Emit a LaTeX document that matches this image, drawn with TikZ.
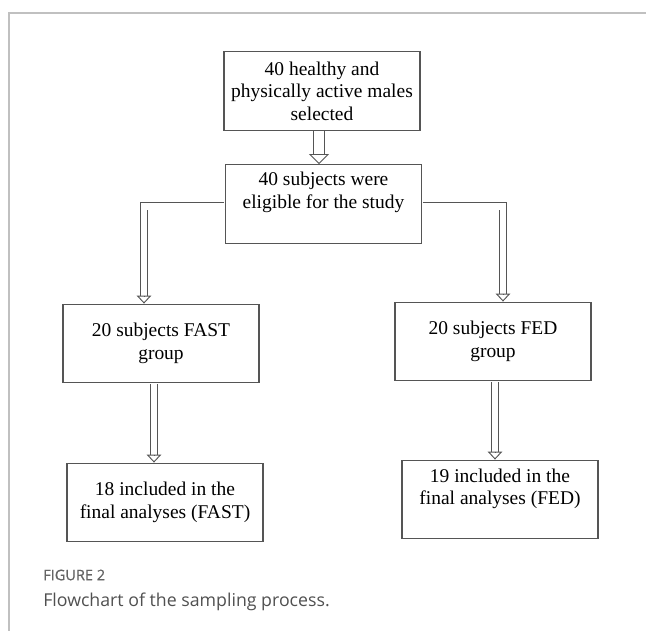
\documentclass[tikz,border=0pt]{standalone}
\usepackage{fontspec}
\setmainfont{Liberation Serif}
\newfontfamily\captionfont{Open Sans}
\newfontfamily\figlabelfont[FakeBold=0.8]{Open Sans}
\usetikzlibrary{arrows.meta,calc}

\begin{document}
\begin{tikzpicture}[x=0.75pt,y=0.75pt,yscale=-1,xscale=1,
		stepbox/.style={draw={rgb, 255:red, 85; green, 85; blue, 85 },line width=0.9pt,minimum width=147pt,minimum height=59pt,inner sep=0pt,align=center,font=\fontsize{14.6}{16.8}\selectfont},
		shaft/.style={draw={rgb, 255:red, 85; green, 85; blue, 85 },line width=0.7pt,double=white,double distance=4.6pt},
		head/.style={draw={rgb, 255:red, 85; green, 85; blue, 85 },line width=0.7pt,-{Triangle[open,length=6pt,width=11pt]}}]
		\useasboundingbox (0,0) rectangle (646,631);
		
		%frame of the figure
		\draw [color={rgb, 255:red, 192; green, 192; blue, 192 }, line width=1.2pt] (9,631) -- (9,13) -- (646,13) ;
		
		%boxes
		\node [stepbox] (selected) at (322,91) {40 healthy and\\physically active males\\selected};
		\node [stepbox] (eligible) at (323.5,204) {40 subjects were\\eligible for the study\\[4pt]};
		\node [stepbox] (fast) at (161,343.5) {20 subjects FAST\\group};
		\node [stepbox] (fed) at (493,341.5) {20 subjects FED\\group};
		\node [stepbox] (fastfinal) at (165,502.5) {18 included in the\\final analyses (FAST)};
		\node [stepbox] (fedfinal) at (500,499.5) {19 included in the\\final analyses (FED)\\[2pt]};
		
		%arrows
		\draw [shaft, double distance=7.6pt] ($(selected.south)+(-3,0)$) -- ($(eligible.north)+(-4.5,-10)$) ;
		\draw [head, -{Triangle[open,length=7.5pt,width=15pt]}] ($(eligible.north)+(-4.5,-10)$) -- ($(eligible.north)+(-4.5,0)$) ;
		
		\draw [shaft] ($(eligible.west)+(-0.6,2.5)$) -| ($(fast.north)+(-17,-8)$) ;
		\draw [head] ($(fast.north)+(-17,-8)$) -- ($(fast.north)+(-17,0)$) ;
		
		\draw [shaft] ($(eligible.east)+(0.6,2.5)$) -| ($(fed.north)+(10,-8)$) ;
		\draw [head] ($(fed.north)+(10,-8)$) -- ($(fed.north)+(10,0)$) ;
		
		\draw [shaft] ($(fast.south)+(-7,0.6)$) -- ($(fastfinal.north)+(-11,-8)$) ;
		\draw [head] ($(fastfinal.north)+(-11,-8)$) -- ($(fastfinal.north)+(-11,0)$) ;
		
		\draw [shaft] ($(fed.south)+(2,0.6)$) -- ($(fedfinal.north)+(-5,-8)$) ;
		\draw [head] ($(fedfinal.north)+(-5,-8)$) -- ($(fedfinal.north)+(-5,0)$) ;
		
		%caption
		\node [anchor=west, inner sep=0pt, color={rgb, 255:red, 100; green, 100; blue, 100 }, font=\figlabelfont\fontsize{10.9}{13}\selectfont] (figlabel) at (43,575) {FIGURE 2};
		\node [anchor=west, inner sep=0pt, color={rgb, 255:red, 80; green, 80; blue, 80 }, font=\captionfont\fontsize{13.3}{16}\selectfont] (figcaption) at (43,602) {Flowchart of the sampling process.};
		
\end{tikzpicture}
\end{document}
